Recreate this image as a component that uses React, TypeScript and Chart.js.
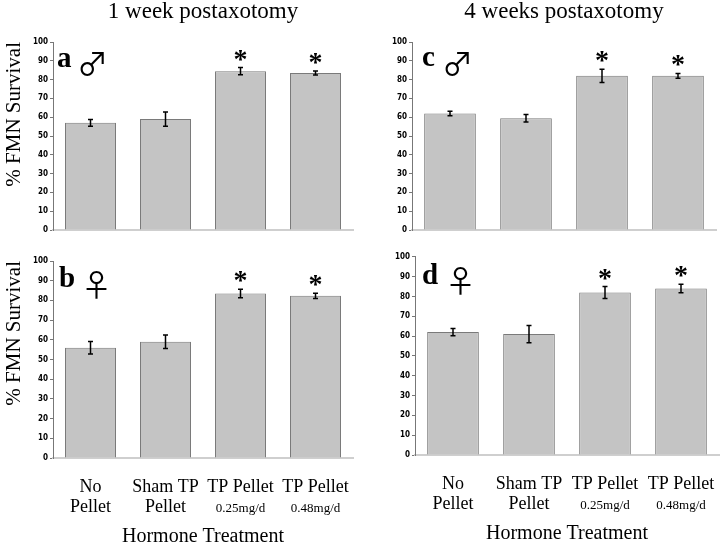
import React, { useEffect, useRef } from "react";
import { Chart, registerables } from "chart.js";
Chart.register(...registerables);

// ---------- data ----------
const labelLineOne = ["No", "Sham TP", "TP Pellet", "TP Pellet"];
const labelLineTwo = ["Pellet", "Pellet", "0.25mg/d", "0.48mg/d"];
const categories = labelLineOne.map((a, i) => a + " " + labelLineTwo[i]);
const yMin = 0;
const yMax = 100;
const yStep = 10;

const maleWeek1 = [57, 59, 84.5, 83.5];
const maleWeek1Err = [1.8, 3.8, 1.9, 1.1];
const maleWeek4 = [62, 59.4, 82, 82];
const maleWeek4Err = [1.2, 2, 3.5, 1.3];
const femaleWeek1 = [56, 59, 83.5, 82.3];
const femaleWeek1Err = [3.2, 3.4, 2.1, 1.3];
const femaleWeek4 = [62, 61, 82, 84];
const femaleWeek4Err = [1.8, 4.4, 3, 2.1];
const significant = [false, false, true, true];

const columnTitles = ["1 week postaxotomy", "4 weeks postaxotomy"];
const yAxisTitle = "% FMN Survival";
const xAxisTitle = "Hormone Treatment";
const MALE = "\u2642";
const FEMALE = "\u2640";

const SERIF = '"Liberation Serif", "Times New Roman", serif';
const TICKFONT = '"Liberation Sans Narrow", "DejaVu Sans Condensed", "Liberation Sans", sans-serif';
const SYMFONT = '"Noto Sans CJK JP", "DejaVu Sans", sans-serif';

type PanelProps = {
  left: number; top: number; width: number; height: number;
  values: number[]; errors: number[];
  letter: string; symbol: string;
  title?: string; bottom?: boolean; showYTitle?: boolean;
  yAxisWidth: number; padTop: number; padRight: number; padBottom: number;
  letterDx: number; symbolDx: number; letterDy: number; symbolDy: number;
};

function Panel(p: PanelProps) {
  const ref = useRef<HTMLCanvasElement | null>(null);
  useEffect(() => {
    if (!ref.current) return;
    const overlay = {
      id: "overlay",
      afterDatasetsDraw(chart: any) {
        const ctx = chart.ctx;
        const ys = chart.scales.y;
        const meta = chart.getDatasetMeta(0);
        const ca = chart.chartArea;
        ctx.save();
        // error bars
        ctx.strokeStyle = "#000";
        ctx.lineWidth = 1.5;
        meta.data.forEach((bar: any, i: number) => {
          const x = bar.x;
          const yt = ys.getPixelForValue(p.values[i] + p.errors[i]);
          const yb = ys.getPixelForValue(p.values[i] - p.errors[i]);
          ctx.beginPath();
          ctx.moveTo(x, yt); ctx.lineTo(x, yb);
          ctx.moveTo(x - 2.5, yt); ctx.lineTo(x + 2.5, yt);
          ctx.moveTo(x - 2.5, yb); ctx.lineTo(x + 2.5, yb);
          ctx.stroke();
          if (significant[i]) {
            ctx.fillStyle = "#000";
            ctx.font = "bold 28px " + SERIF;
            ctx.textAlign = "center";
            ctx.textBaseline = "alphabetic";
            ctx.fillText("*", x, yt);
          }
        });
        // panel letter + sex symbol
        ctx.fillStyle = "#000";
        ctx.textAlign = "left";
        ctx.textBaseline = "alphabetic";
        ctx.font = "bold 29px " + SERIF;
        ctx.fillText(p.letter, ca.left + p.letterDx, ca.top + p.letterDy);
        ctx.font = "31px " + SYMFONT;
        ctx.fillText(p.symbol, ca.left + p.symbolDx, ca.top + p.symbolDy);
        // column title
        if (p.title) {
          ctx.textAlign = "center";
          ctx.font = "23px " + SERIF;
          ctx.fillText(p.title, (ca.left + ca.right) / 2, 18);
        }
        // category labels
        if (p.bottom) {
          const xs = chart.scales.x;
          ctx.textAlign = "center";
          categories.forEach((_c, i) => {
            const x = xs.getPixelForValue(i);
            ctx.font = "18px " + SERIF;
            ctx.fillText(labelLineOne[i], x, ca.bottom + 34);
            ctx.font = (i < 2 ? "18px " : "13px ") + SERIF;
            ctx.fillText(labelLineTwo[i], x, ca.bottom + 54);
          });
          ctx.font = "20px " + SERIF;
          ctx.fillText(xAxisTitle, (ca.left + ca.right) / 2, ca.bottom + 84);
        }
        ctx.restore();
      },
    };
    const chart = new Chart(ref.current, {
      type: "bar",
      data: {
        labels: categories,
        datasets: [{
          data: p.values,
          backgroundColor: "#c4c4c4",
          borderColor: "#7a7a7a",
          borderWidth: 1,
          barPercentage: 0.68,
          categoryPercentage: 1,
        }],
      },
      options: {
        responsive: false,
        animation: false,
        devicePixelRatio: 1,
        layout: { padding: { left: 0, top: p.padTop, right: p.padRight, bottom: p.padBottom } },
        plugins: { legend: { display: false }, tooltip: { enabled: false }, title: { display: false } },
        scales: {
          x: {
            ticks: { display: false },
            grid: { display: false },
            border: { display: true, color: "#cfcfcf", width: 2 },
            afterFit: (s: any) => { s.height = 0; },
          },
          y: {
            min: yMin, max: yMax,
            ticks: { stepSize: yStep, color: "#000", padding: 2, font: { family: TICKFONT, size: 8, weight: "bold" } },
            grid: { drawOnChartArea: false, drawTicks: true, tickLength: 3, color: "#777" },
            border: { display: true, color: "#777", width: 1 },
            title: {
              display: !!p.showYTitle, text: yAxisTitle, align: "end", color: "#000",
              padding: { top: 2, bottom: 0 },
              font: { family: SERIF, size: 21, weight: "normal" },
            },
            afterFit: (s: any) => { s.width = p.yAxisWidth; },
          },
        },
      } as any,
      plugins: [overlay],
    });
    return () => chart.destroy();
  }, []);
  return (
    <canvas
      ref={ref}
      width={p.width}
      height={p.height}
      style={{ position: "absolute", left: p.left, top: p.top, width: p.width, height: p.height, display: "block" }}
    />
  );
}

export default function App() {
  return (
    <div style={{ position: "absolute", left: 0, top: 0, width: 720, height: 542, background: "#fff", overflow: "hidden" }}>
      <Panel left={0} top={0} width={360} height={250} values={maleWeek1} errors={maleWeek1Err}
        letter="a" symbol={MALE} title={columnTitles[0]} showYTitle yAxisWidth={53} padTop={42} padRight={7} padBottom={20}
        letterDx={4} symbolDx={24} letterDy={25} symbolDy={33} />
      <Panel left={360} top={0} width={360} height={250} values={maleWeek4} errors={maleWeek4Err}
        letter="c" symbol={MALE} title={columnTitles[1]} yAxisWidth={52} padTop={42} padRight={4} padBottom={20}
        letterDx={10} symbolDx={30} letterDy={24} symbolDy={33} />
      <Panel left={0} top={250} width={360} height={292} values={femaleWeek1} errors={femaleWeek1Err}
        letter="b" symbol={FEMALE} bottom showYTitle yAxisWidth={53} padTop={11} padRight={7} padBottom={84}
        letterDx={6} symbolDx={28} letterDy={26} symbolDy={35} />
      <Panel left={360} top={250} width={360} height={292} values={femaleWeek4} errors={femaleWeek4Err}
        letter="d" symbol={FEMALE} bottom yAxisWidth={55} padTop={6} padRight={1} padBottom={87}
        letterDx={7} symbolDx={30} letterDy={27} symbolDy={35} />
    </div>
  );
}
